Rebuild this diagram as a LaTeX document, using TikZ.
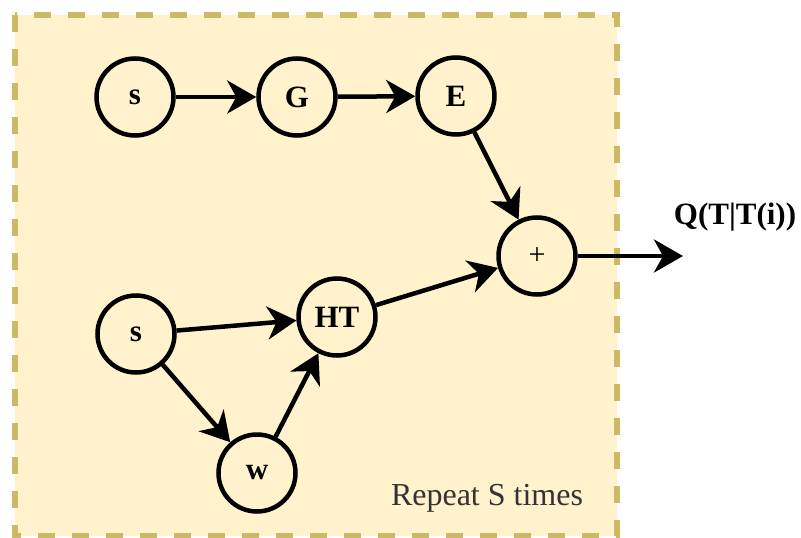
\documentclass[tikz,border=0pt]{standalone}
\usepackage{fontspec}
\setmainfont{Liberation Serif}
\usetikzlibrary{arrows.meta}
\definecolor{panelfill}{HTML}{FFF2CC}
\definecolor{paneledge}{HTML}{CDB866}
\definecolor{notetext}{HTML}{333333}
\tikzset{
  var/.style={circle, draw=black, line width=4.5pt, minimum size=77pt, inner sep=0pt,
    font=\fontsize{31}{33}\selectfont\bfseries},
  sum/.style={var, font=\fontsize{30}{32}\selectfont},
  flow/.style={line width=4.5pt, -{Stealth[length=29pt,width=33pt,inset=9pt]}},
  panel/.style={fill=panelfill, draw=paneledge, line width=6pt,
    dash pattern=on 17pt off 17pt},
}
\begin{document}
\begin{tikzpicture}[x=1pt,y=-1pt]
\useasboundingbox (0,0) rectangle (801,538);
% repeated block
\draw[panel] (15,15) rectangle (617,536);
% upper chain
\node[var] (s1) at (135,97) {s};
\node[var] (g) at (297,97) {G};
\node[var] (e) at (456,96) {E};
% combination
\node[sum] (plus) at (537,256) {+};
% lower branch
\node[var] (s2) at (136,334) {s};
\node[var] (ht) at (337,317) {HT};
\node[var] (w) at (257,473) {w};
% output
\coordinate (out) at (683,256);
\node[font=\fontsize{31}{33}\selectfont\bfseries, anchor=base] (q) at (735,224) {Q(T|T(i))};
\node[font=\fontsize{32}{34}\selectfont, text=notetext, anchor=base] (note) at (487,505) {Repeat S times};
% connectors
\draw[flow] (s1) -- (g);
\draw[flow] (g) -- (e);
\draw[flow] (e) -- (plus);
\draw[flow] (s2) -- (ht);
\draw[flow] (s2) -- (w);
\draw[flow] (w) -- (ht);
\draw[flow] (ht) -- (plus);
\draw[flow] (plus) -- (out);
\end{tikzpicture}
\end{document}
